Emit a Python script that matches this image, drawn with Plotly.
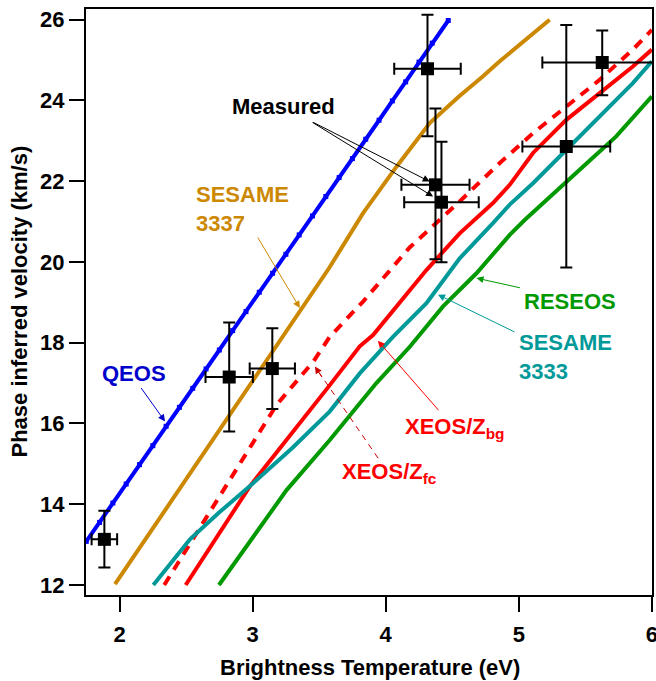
import plotly.graph_objects as go

# ---- data ----
qeos_x = [1.75, 1.85, 1.95, 2.05, 2.15, 2.25, 2.35, 2.45, 2.55, 2.65, 2.75, 2.85, 2.95, 3.05,
          3.15, 3.25, 3.35, 3.45, 3.55, 3.65, 3.75, 3.85, 3.95, 4.05, 4.15, 4.25, 4.35, 4.47]
qeos_y = [13.08, 13.55, 14.03, 14.50, 14.98, 15.45, 15.93, 16.40, 16.87, 17.35, 17.82, 18.30,
          18.77, 19.25, 19.72, 20.19, 20.67, 21.14, 21.62, 22.09, 22.56, 23.04, 23.51, 23.99,
          24.46, 24.95, 25.42, 25.98]

s3337_x = [1.966, 2.30, 2.679, 3.00, 3.213, 3.575, 3.83, 4.081, 4.331, 4.55, 4.731, 4.857, 5.232]
s3337_y = [12.02, 13.65, 15.50, 17.04, 18.07, 19.85, 21.21, 22.36, 23.44, 24.10, 24.60, 24.97, 26.0]

zfc_x = [2.336, 2.617, 2.854, 3.18, 3.46, 3.58, 3.83, 4.18, 4.53, 4.857, 5.107, 5.357, 5.607, 5.857, 6.0]
zfc_y = [12.0, 13.49, 14.77, 16.46, 17.55, 18.15, 19.02, 20.36, 21.42, 22.45, 23.19, 23.85, 24.51, 25.26, 25.75]

zbg_x = [2.497, 2.98, 3.58, 3.805, 3.905, 4.056, 4.306, 4.556, 4.806, 4.932, 5.107, 5.357, 5.607, 5.857, 6.0]
zbg_y = [12.0, 14.45, 16.95, 17.91, 18.19, 18.81, 19.80, 20.71, 21.46, 21.91, 22.70, 23.52, 24.18, 24.84, 25.26]

s3333_x = [2.254, 2.529, 2.75, 2.98, 3.30, 3.58, 3.805, 4.056, 4.306, 4.556, 4.806, 4.932, 5.107, 5.357, 5.607, 5.857, 6.0]
s3333_y = [12.0, 13.13, 13.80, 14.45, 15.40, 16.30, 17.24, 18.15, 18.98, 20.09, 20.96, 21.42, 21.95, 22.78, 23.60, 24.43, 24.97]

reseos_x = [2.747, 3.255, 3.58, 3.93, 4.181, 4.431, 4.682, 4.932, 5.044, 5.232, 5.482, 5.732, 6.0]
reseos_y = [12.0, 14.35, 15.59, 17.0, 17.90, 18.90, 19.72, 20.67, 21.04, 21.62, 22.36, 23.11, 24.10]

meas_x = [1.886, 2.824, 3.148, 4.314, 4.374, 4.419, 5.357, 5.627]
meas_y = [13.13, 17.15, 17.36, 24.785, 21.91, 21.48, 22.86, 24.94]
meas_yerr_plus = [0.71, 1.35, 1.0, 1.34, 1.89, 1.50, 3.01, 0.79]
meas_yerr_minus = [0.70, 1.35, 1.0, 1.67, 1.84, 1.49, 3.00, 0.81]
meas_xerr = [0.096, 0.178, 0.17, 0.25, 0.256, 0.28, 0.33, 0.45]

x_ticks = [2, 3, 4, 5, 6]
y_ticks = [12, 14, 16, 18, 20, 22, 24, 26]

BLUE = "#0000ff"
GOLD = "#cc8800"
RED = "#ff0000"
TEAL = "#009999"
GREEN = "#009900"
FONT = "Liberation Sans"

fig = go.Figure()
fig.add_trace(go.Scatter(x=qeos_x, y=qeos_y, mode="lines+markers",
                         line=dict(color=BLUE, width=4),
                         marker=dict(symbol="square", size=5, color=BLUE)))
fig.add_trace(go.Scatter(x=s3337_x, y=s3337_y, mode="lines", line=dict(color=GOLD, width=4)))
fig.add_trace(go.Scatter(x=zfc_x, y=zfc_y, mode="lines",
                         line=dict(color=RED, width=4, dash="10px,8px")))
fig.add_trace(go.Scatter(x=zbg_x, y=zbg_y, mode="lines", line=dict(color=RED, width=4)))
fig.add_trace(go.Scatter(x=s3333_x, y=s3333_y, mode="lines", line=dict(color=TEAL, width=4)))
fig.add_trace(go.Scatter(x=reseos_x, y=reseos_y, mode="lines", line=dict(color=GREEN, width=4)))
fig.add_trace(go.Scatter(
    x=meas_x, y=meas_y, mode="markers",
    marker=dict(symbol="square", size=13, color="black"),
    error_y=dict(type="data", symmetric=False, array=meas_yerr_plus, arrayminus=meas_yerr_minus,
                 color="black", thickness=2, width=6),
    error_x=dict(type="data", array=meas_xerr, color="black", thickness=2, width=6)))

ann = []


def label(x, y, text, color):
    ann.append(dict(x=x, y=y, xref="x", yref="y", text="<b>" + text + "</b>", showarrow=False,
                    xanchor="left", yanchor="middle", align="left",
                    font=dict(family=FONT, size=22, color=color)))


def arrow(x, y, ax, ay, color, size=1.4):
    ann.append(dict(x=x, y=y, xref="x", yref="y", text="", showarrow=True, ax=ax, ay=ay,
                    arrowhead=2, arrowsize=size, arrowwidth=1, arrowcolor=color, standoff=0))


label(2.83, 23.84, "Measured", "black")
arrow(4.331, 21.99, -118, -60, "black")
arrow(4.356, 21.62, -122, -75, "black")

label(2.559, 21.30, "SESAME<br>3337", GOLD)
arrow(3.355, 18.86, -43, -72, GOLD)

label(1.854, 17.24, "QEOS", "#0000cc")
arrow(2.342, 16.05, -25, -35, "#0000cc")

label(3.655, 14.78, "XEOS/Z<sub>fc</sub>", RED)
fig.add_shape(type="line", x0=3.943, y0=15.14, x1=3.50, y1=17.26, xref="x", yref="y",
              line=dict(color="#cc0000", width=1, dash="6px,5px"))
arrow(3.468, 17.41, 8, 12, "#cc0000")

label(4.127, 15.90, "XEOS/Z<sub>bg</sub>", RED)
arrow(3.941, 18.05, 62, 71, RED)

label(5.027, 19.02, "RESEOS", GREEN)
arrow(4.682, 19.60, 45, 10, GREEN)

label(4.99, 17.65, "SESAME<br>3333", TEAL)
arrow(4.393, 19.19, 78, 38, TEAL)

ann.append(dict(x=0.502, y=0, xref="paper", yref="paper", xanchor="center", yanchor="top",
                yshift=-58, showarrow=False, text="<b>Brightness Temperature (eV)</b>",
                font=dict(family=FONT, size=22, color="black")))
ann.append(dict(x=0, y=0.5, xref="paper", yref="paper", xanchor="center", yanchor="middle",
                xshift=-67.5, textangle=-90, showarrow=False,
                text="<b>Phase inferred velocity (km/s)</b>",
                font=dict(family=FONT, size=22, color="black")))

axis_common = dict(showgrid=False, zeroline=False, showline=True, linecolor="black", linewidth=2,
                   mirror=True, ticks="outside", ticklen=15, tickwidth=2, tickcolor="black",
                   automargin=False, ticklabeloverflow="allow",
                   tickfont=dict(family=FONT, size=22, color="black", weight="bold"))

fig.update_layout(
    width=656, height=681,
    margin=dict(l=86, r=4, t=9, b=86, autoexpand=False),
    paper_bgcolor="white", plot_bgcolor="white",
    showlegend=False,
    xaxis=dict(range=[1.748, 6.001], tickvals=x_ticks, ticktext=[str(v) for v in x_ticks],
               ticklabelstandoff=4, **axis_common),
    yaxis=dict(range=[11.752, 26.265], tickvals=y_ticks, ticktext=[str(v) for v in y_ticks], **axis_common),
    annotations=ann,
)

fig.write_html("out.html")
